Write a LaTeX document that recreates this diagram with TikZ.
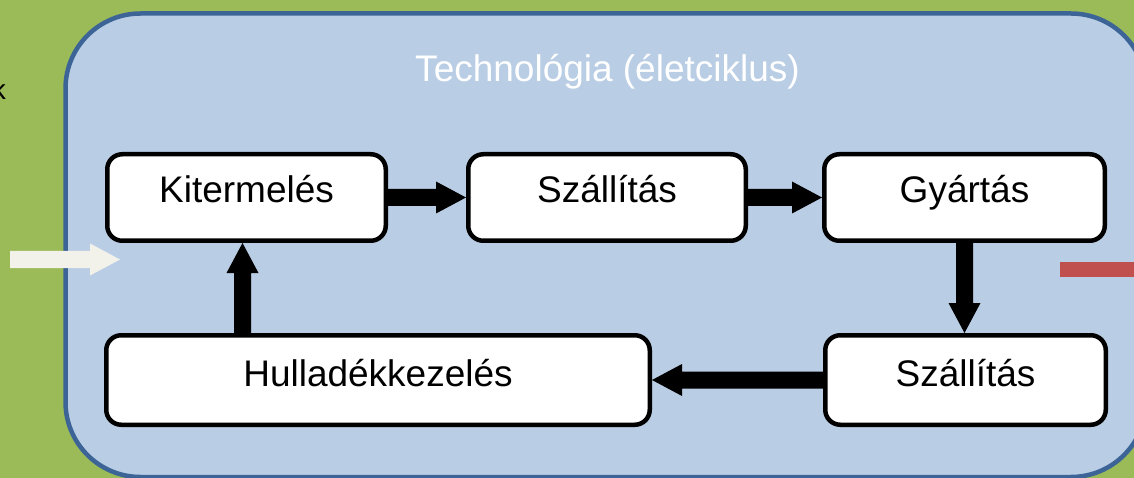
\documentclass[tikz,border=0pt]{standalone}
\usepackage{fontspec}
\setmainfont{Liberation Sans}
\usetikzlibrary{calc}
\definecolor{bggreen}{HTML}{9BBB59}
\definecolor{techfill}{HTML}{B9CDE5}
\definecolor{techborder}{HTML}{3C6496}
\definecolor{inarrow}{HTML}{F3F2EA}
\definecolor{outred}{HTML}{C0504D}
% block arrow from #2 to #3 (tip at #3)
\newcommand\blkarrow[3][black]{%
  \coordinate (ba-s) at (#2);
  \coordinate (ba-t) at (#3);
  \coordinate (ba-h) at ($(ba-t)!30pt!(ba-s)$);
  \fill[#1] ($(ba-s)!8.5pt!90:(ba-t)$) -- ($(ba-h)!8.5pt!-90:(ba-s)$)
    -- ($(ba-h)!16pt!-90:(ba-s)$) -- (ba-t) -- ($(ba-h)!16pt!90:(ba-s)$)
    -- ($(ba-h)!8.5pt!90:(ba-s)$) -- ($(ba-s)!8.5pt!-90:(ba-t)$) -- cycle;
}
\tikzset{
  stagebox/.style={draw=black, line width=4.5pt, fill=white, rounded corners=15pt,
    font=\fontsize{37}{44}\selectfont, text=black, inner sep=0pt},
  toprow/.style={stagebox, minimum height=86.5pt, text height=20pt, text depth=10pt},
  botrow/.style={stagebox, minimum height=89.5pt, text height=21pt, text depth=9pt},
  container/.style={draw=techborder, line width=4.5pt, fill=techfill, rounded corners=75pt,
    inner sep=0pt},
  titletext/.style={font=\fontsize{37}{44}\selectfont, text=white, inner sep=0pt},
}
\begin{document}
\begin{tikzpicture}[x=1pt,y=-1pt]
\useasboundingbox (0,0) rectangle (1134,478);
\fill[bggreen] (0,0) rectangle (1134,478);

\node[anchor=base east, font=\fontsize{28}{34}\selectfont, inner sep=0pt] (kk) at (6,100) {k};

\node[container, minimum width=1080.5pt, minimum height=463.5pt] (tech) at (605.75,245.25) {};
\node[titletext, anchor=base] (title) at (607.5,81.5) {Technológia (életciklus)};

\node[toprow, minimum width=278.5pt] (kit) at (246.5,197.5) {Kitermelés};
\node[toprow, minimum width=277.5pt] (sz1) at (607,197.5) {Szállítás};
\node[toprow, minimum width=280.5pt] (gy) at (964.5,197.5) {Gyártás};
\node[botrow, minimum width=280.5pt] (sz2) at (965.5,380) {Szállítás};
\node[botrow, minimum width=543.5pt] (hul) at (378,380) {Hulladékkezelés};

\blkarrow{kit.east}{sz1.west}
\blkarrow{sz1.east}{gy.west}
\blkarrow{gy.south}{gy.south |- sz2.north}
\blkarrow{sz2.west}{sz2.west -| hul.east}
\coordinate (uptip) at ([xshift=-4pt]kit.south);
\blkarrow{uptip |- hul.north}{uptip}

\coordinate (instart) at (10,259.5);
\coordinate (inend) at (120,259.5);
\blkarrow[inarrow]{instart}{inend}

\coordinate (outstart) at (1060,269.5);
\coordinate (outend) at (1145,269.5);
\draw[outred, line width=15pt] (outstart) -- (outend);
\end{tikzpicture}
\end{document}
